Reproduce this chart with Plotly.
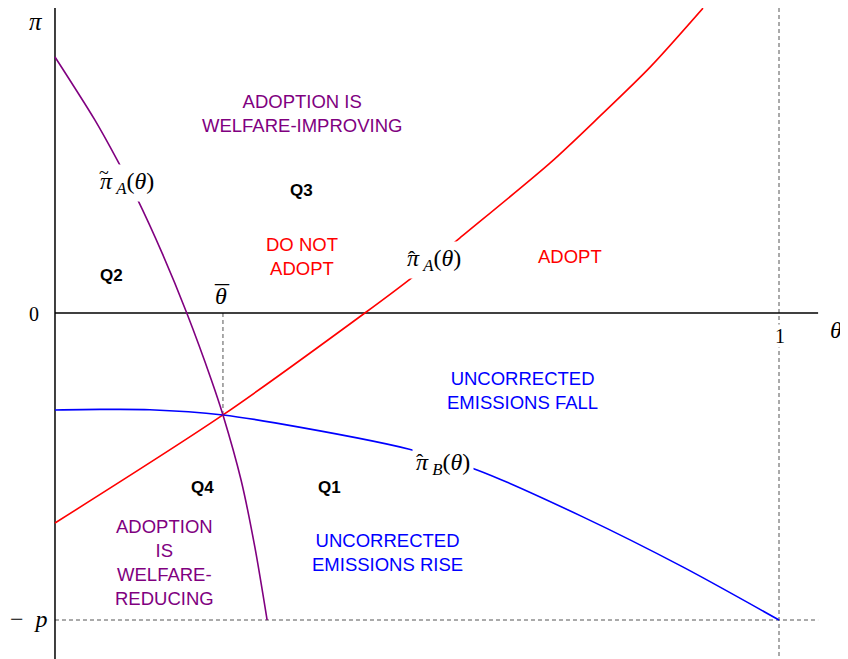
import plotly.graph_objects as go

# values (p normalised to 1, theta from 0 to 1)
P = 1.0
THETA_BAR = 0.232
PI_AT_THETA_BAR = -0.332

theta_hat_a = [0.0, 0.232, 0.428, 0.494, 0.559, 0.684, 0.753, 0.822, 0.895]
pi_hat_a = [-0.684, -0.332, 0.0, 0.117, 0.244, 0.489, 0.642, 0.801, 0.993]

theta_hat_b = [0.0, 0.062, 0.131, 0.232, 0.304, 0.488, 0.583, 0.729, 0.867, 1.0]
pi_hat_b = [-0.316, -0.314, -0.315, -0.332, -0.358, -0.443, -0.511, -0.664, -0.827, -1.0]

theta_tilde_a = [0.0, 0.055, 0.086, 0.113, 0.148, 0.182, 0.216, 0.232, 0.257, 0.276, 0.293]
pi_tilde_a = [0.834, 0.629, 0.498, 0.375, 0.195, 0.0, -0.218, -0.332, -0.544, -0.762, -1.0]

# page offset of the plot div (browser body margin) is folded into the ranges
X_MIN, X_MAX = -0.0649, 1.0953
Y_MIN, Y_MAX = -1.1270, 0.9935
AXIS_END_X = 1.054

RED = '#FF0000'
BLUE = '#0000FF'
PURPLE = '#800080'
GREY = '#555555'
SERIF = 'Liberation Serif, Times New Roman, serif'
SANS = 'Liberation Sans, Arial, sans-serif'

fig = go.Figure()

dash = dict(color=GREY, width=1, dash='4px,3px')
fig.add_trace(go.Scatter(x=[THETA_BAR, THETA_BAR], y=[0, PI_AT_THETA_BAR], mode='lines', line=dash))
fig.add_trace(go.Scatter(x=[1, 1], y=[Y_MAX, Y_MIN], mode='lines', line=dash))
fig.add_trace(go.Scatter(x=[0, AXIS_END_X], y=[-P, -P], mode='lines', line=dash))

# axes
fig.add_trace(go.Scatter(x=[0, AXIS_END_X], y=[0, 0], mode='lines',
                         line=dict(color='black', width=1.5)))
fig.add_trace(go.Scatter(x=[0, 0], y=[Y_MAX, Y_MIN], mode='lines',
                         line=dict(color='black', width=1.5)))

# curves
fig.add_trace(go.Scatter(x=theta_hat_a, y=pi_hat_a, mode='lines',
                         line=dict(color=RED, width=1.6, shape='spline', smoothing=0.8)))
fig.add_trace(go.Scatter(x=theta_hat_b, y=pi_hat_b, mode='lines',
                         line=dict(color=BLUE, width=1.6, shape='spline', smoothing=0.8)))
fig.add_trace(go.Scatter(x=theta_tilde_a, y=pi_tilde_a, mode='lines',
                         line=dict(color=PURPLE, width=1.6, shape='spline', smoothing=0.8)))


def px_to_data(px, py):
    return (px - 55) / 724, (313 - py) / 307


def label(px, py, text, color='black', size=18.5, family=SANS, bg=None, pad=1):
    x, y = px_to_data(px, py)
    fig.add_annotation(x=x, y=y, text=text, showarrow=False,
                       font=dict(color=color, size=size, family=family),
                       bgcolor=bg, borderpad=pad)


# axis symbols
label(36, 21, '<i>π</i>', size=25, family=SERIF)
label(34, 314, '0', size=20, family=SERIF)
label(29, 619, '−  <i>p</i>', size=24, family=SERIF)
label(780, 336, '1', size=20, family=SERIF, bg='white', pad=0)
label(836, 330, '<i>θ</i>', size=24, family=SERIF)
label(221, 296, '<i>θ</i>', size=24, family=SERIF)
label(222, 295, '¯', size=28, family=SERIF)

# curve names (white box breaks the line like the original)
label(127, 183, '<i>π</i><sub><i> A</i></sub>(<i>θ</i>)', size=24, family=SERIF, bg='white', pad=3)
label(104, 173, '~', size=18, family=SERIF)
label(434, 260, '<i>π</i><sub><i> A</i></sub>(<i>θ</i>)', size=24, family=SERIF, bg='white', pad=3)
label(412, 258, 'ˆ', size=22, family=SERIF)
label(443, 464, '<i>π</i><sub><i> B</i></sub>(<i>θ</i>)', size=24, family=SERIF, bg='white', pad=3)
label(420, 461, 'ˆ', size=22, family=SERIF)

# region labels
label(302, 113, 'ADOPTION IS<br>WELFARE-IMPROVING', color=PURPLE)
label(302, 190, '<b>Q3</b>', size=17)
label(302, 256, 'DO NOT<br>ADOPT', color=RED)
label(112, 275, '<b>Q2</b>', size=17)
label(570, 256, 'ADOPT', color=RED)
label(522, 390, 'UNCORRECTED<br>EMISSIONS FALL', color=BLUE)
label(203, 487, '<b>Q4</b>', size=17)
label(330, 487, '<b>Q1</b>', size=17)
label(165, 562, 'ADOPTION<br>IS<br>WELFARE-<br>REDUCING', color=PURPLE)
label(388, 552, 'UNCORRECTED<br>EMISSIONS RISE', color=BLUE)

fig.update_traces(hoverinfo='skip')
fig.update_layout(
    width=840, height=651,
    margin=dict(l=0, r=0, t=0, b=0),
    paper_bgcolor='white', plot_bgcolor='white',
    showlegend=False,
    xaxis=dict(range=[X_MIN, X_MAX], visible=False, fixedrange=True),
    yaxis=dict(range=[Y_MIN, Y_MAX], visible=False, fixedrange=True),
)

fig.write_html('out.html')
